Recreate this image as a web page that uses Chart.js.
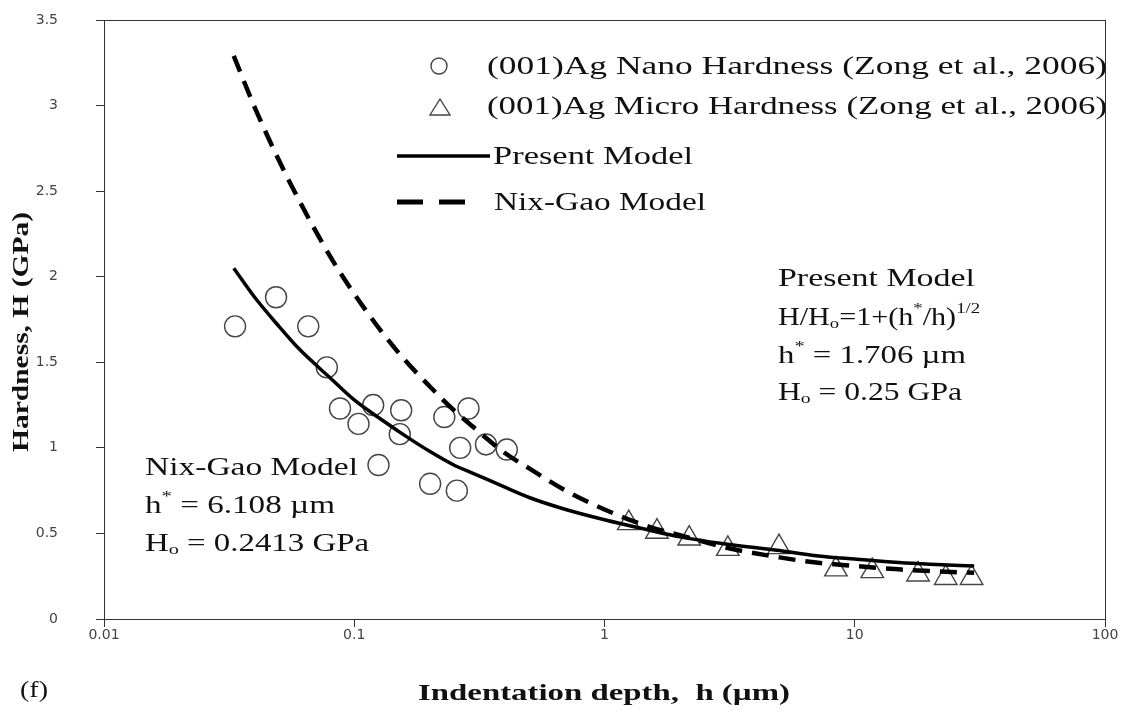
<!DOCTYPE html>
<html>
<head>
<meta charset="utf-8">
<script src="https://cdn.jsdelivr.net/npm/chart.js@4.4.1/dist/chart.umd.min.js"></script>
<style>
  body { margin: 0; background: #fff; }
  #wrap { width: 1124px; height: 715px; }
</style>
</head>
<body>
<div id="wrap"><canvas id="hardChart"></canvas></div>
<script>
const xTicks = [0.01, 0.1, 1, 10, 100];
const yTicks = [0, 0.5, 1, 1.5, 2, 2.5, 3, 3.5];

// (001)Ag nano indentation
const nanoDepth = [0.0334, 0.0487, 0.0655, 0.0777, 0.0877, 0.104, 0.119, 0.154, 0.152, 0.125, 0.201, 0.229, 0.257, 0.265, 0.286, 0.336, 0.407];
const nanoHard  = [1.71, 1.88, 1.71, 1.47, 1.23, 1.14, 1.25, 1.22, 1.08, 0.90, 0.79, 1.18, 0.75, 1.00, 1.23, 1.02, 0.99];

// (001)Ag micro indentation
const microDepth = [1.25, 1.62, 2.18, 3.11, 4.98, 8.41, 11.75, 17.9, 23.1, 29.3];
const microHard  = [0.56, 0.51, 0.47, 0.41, 0.42, 0.29, 0.28, 0.26, 0.24, 0.24];

// model curves
const modelDepth   = [0.033, 0.04, 0.05, 0.06, 0.08, 0.1, 0.13, 0.16, 0.2, 0.25, 0.3, 0.4, 0.5, 0.7, 1, 1.5, 2, 3, 5, 7, 10, 15, 20, 30];
const presentModel = [2.05, 1.88, 1.71, 1.58, 1.41, 1.28, 1.16, 1.07, 0.98, 0.90, 0.85, 0.77, 0.71, 0.64, 0.58, 0.52, 0.48, 0.44, 0.40, 0.37, 0.35, 0.33, 0.32, 0.31];
const nixGaoModel  = [3.29, 2.99, 2.68, 2.45, 2.12, 1.90, 1.67, 1.51, 1.36, 1.22, 1.12, 0.97, 0.88, 0.75, 0.64, 0.54, 0.49, 0.42, 0.36, 0.33, 0.31, 0.29, 0.28, 0.27];

const pts = (xs, ys) => xs.map((x, i) => ({ x: x, y: ys[i] }));

const SERIF = '"Liberation Serif", "Times New Roman", serif';

// text pieces: [text, "n" | "sub" | "sup"], stretched sideways to a given width
function wideText(ctx, parts, x, y, size, width, bold) {
  if (typeof parts === "string") parts = [[parts, "n"]];
  const w = bold ? "bold " : "";
  const fontOf = kind => (kind === "n" ? size : size * 0.62) + "px " + SERIF;
  let natural = 0;
  parts.forEach(([t, kind]) => {
    ctx.font = w + fontOf(kind);
    natural += ctx.measureText(t).width;
  });
  ctx.save();
  ctx.translate(x, y);
  ctx.scale(width / natural, 1);
  let cx = 0;
  parts.forEach(([t, kind]) => {
    let dy = 0;
    if (kind === "sub") dy = size * 0.24;
    if (kind === "sup") dy = -size * 0.36;
    ctx.font = w + fontOf(kind);
    ctx.fillText(t, cx, dy);
    cx += ctx.measureText(t).width;
  });
  ctx.restore();
}

const decor = {
  id: "decor",
  beforeDraw(chart) {
    const ctx = chart.ctx;
    ctx.save();
    ctx.fillStyle = "#fff";
    ctx.fillRect(0, 0, chart.width, chart.height);
    ctx.restore();
  },
  afterDraw(chart) {
    const ctx = chart.ctx;
    const a = chart.chartArea;
    ctx.save();
    ctx.strokeStyle = "#333";
    ctx.lineWidth = 1;
    ctx.strokeRect(a.left + 0.5, a.top + 0.5, a.right - a.left, a.bottom - a.top);

    ctx.fillStyle = "#111";
    ctx.textBaseline = "middle";
    ctx.textAlign = "left";

    // legend
    ctx.strokeStyle = "#444";
    ctx.lineWidth = 1.4;
    ctx.beginPath();
    ctx.arc(439, 66, 8, 0, Math.PI * 2);
    ctx.stroke();
    ctx.beginPath();
    ctx.moveTo(440, 99); ctx.lineTo(450, 115); ctx.lineTo(430, 115); ctx.closePath();
    ctx.stroke();
    ctx.strokeStyle = "#000";
    ctx.lineWidth = 3.5;
    ctx.beginPath(); ctx.moveTo(397, 156); ctx.lineTo(490, 156); ctx.stroke();
    ctx.lineWidth = 5;
    ctx.setLineDash([26, 16]);
    ctx.beginPath(); ctx.moveTo(397, 202); ctx.lineTo(465, 202); ctx.stroke();
    ctx.setLineDash([]);

    wideText(ctx, "(001)Ag Nano Hardness (Zong et al., 2006)", 487, 67, 25, 620);
    wideText(ctx, "(001)Ag Micro Hardness (Zong et al., 2006)", 487, 107, 25, 620);
    wideText(ctx, "Present Model", 493, 157, 25, 200);
    wideText(ctx, "Nix-Gao Model", 494, 203, 25, 212);

    // model annotations
    wideText(ctx, "Present Model", 778, 279, 25, 197);
    wideText(ctx, [["H/H", "n"], ["o", "sub"], ["=1+(h", "n"], ["*", "sup"], ["/h)", "n"], ["1/2", "sup"]], 778, 318, 25, 202);
    wideText(ctx, [["h", "n"], ["*", "sup"], [" = 1.706 \u00b5m", "n"]], 778, 356, 25, 188);
    wideText(ctx, [["H", "n"], ["o", "sub"], [" = 0.25 GPa", "n"]], 778, 393, 25, 184);

    wideText(ctx, "Nix-Gao Model", 145, 468, 25, 213);
    wideText(ctx, [["h", "n"], ["*", "sup"], [" = 6.108 \u00b5m", "n"]], 145, 506, 25, 190);
    wideText(ctx, [["H", "n"], ["o", "sub"], [" = 0.2413 GPa", "n"]], 145, 544, 25, 224);

    // axis titles
    wideText(ctx, "Indentation depth,  h (\u00b5m)", 418, 694, 23, 372, true);
    ctx.save();
    ctx.translate(22, 452);
    ctx.rotate(-Math.PI / 2);
    wideText(ctx, "Hardness, H (GPa)", 0, 0, 23, 240, true);
    ctx.restore();

    wideText(ctx, "(f)", 20, 691, 24, 28);
    ctx.restore();
  }
};

new Chart(document.getElementById("hardChart"), {
  type: "scatter",
  data: {
    datasets: [
      {
        label: "Present Model",
        data: pts(modelDepth, presentModel),
        showLine: true,
        borderColor: "#000",
        borderWidth: 3.5,
        pointRadius: 0,
        cubicInterpolationMode: "monotone"
      },
      {
        label: "Nix-Gao Model",
        data: pts(modelDepth, nixGaoModel),
        showLine: true,
        borderColor: "#000",
        borderWidth: 4.5,
        borderDash: [17, 10],
        pointRadius: 0,
        cubicInterpolationMode: "monotone"
      },
      {
        label: "(001)Ag Nano Hardness (Zong et al., 2006)",
        data: pts(nanoDepth, nanoHard),
        pointStyle: "circle",
        pointRadius: 10.5,
        borderColor: "#444",
        borderWidth: 1.4,
        backgroundColor: "rgba(0,0,0,0)"
      },
      {
        label: "(001)Ag Micro Hardness (Zong et al., 2006)",
        data: pts(microDepth, microHard),
        pointStyle: "triangle",
        pointRadius: 13,
        borderColor: "#444",
        borderWidth: 1.4,
        backgroundColor: "rgba(0,0,0,0)"
      }
    ]
  },
  options: {
    responsive: true,
    maintainAspectRatio: false,
    animation: false,
    layout: { padding: { top: 20, right: 19, left: 0, bottom: 0 } },
    plugins: {
      legend: { display: false },
      tooltip: { enabled: false }
    },
    scales: {
      x: {
        type: "logarithmic",
        min: 0.01,
        max: 100,
        afterBuildTicks: s => { s.ticks = xTicks.map(v => ({ value: v })); },
        afterFit: s => { s.height = 96; },
        ticks: {
          callback: v => String(v),
          font: { family: "DejaVu Sans", size: 14 },
          color: "#444",
          padding: 0,
          maxRotation: 0
        },
        grid: { drawOnChartArea: false, tickLength: 8, color: "#333" },
        border: { color: "#333" }
      },
      y: {
        min: 0,
        max: 3.5,
        afterBuildTicks: s => { s.ticks = yTicks.map(v => ({ value: v })); },
        // label padding would otherwise push the plot top down
        afterFit: s => { s.width = 104; s.paddingTop = 0; s.paddingBottom = 0; },
        ticks: {
          callback: v => String(v),
          font: { family: "DejaVu Sans", size: 14 },
          color: "#444",
          padding: 38
        },
        grid: { drawOnChartArea: false, tickLength: 8, color: "#333" },
        border: { color: "#333" }
      }
    }
  },
  plugins: [decor]
});
</script>
</body>
</html>
